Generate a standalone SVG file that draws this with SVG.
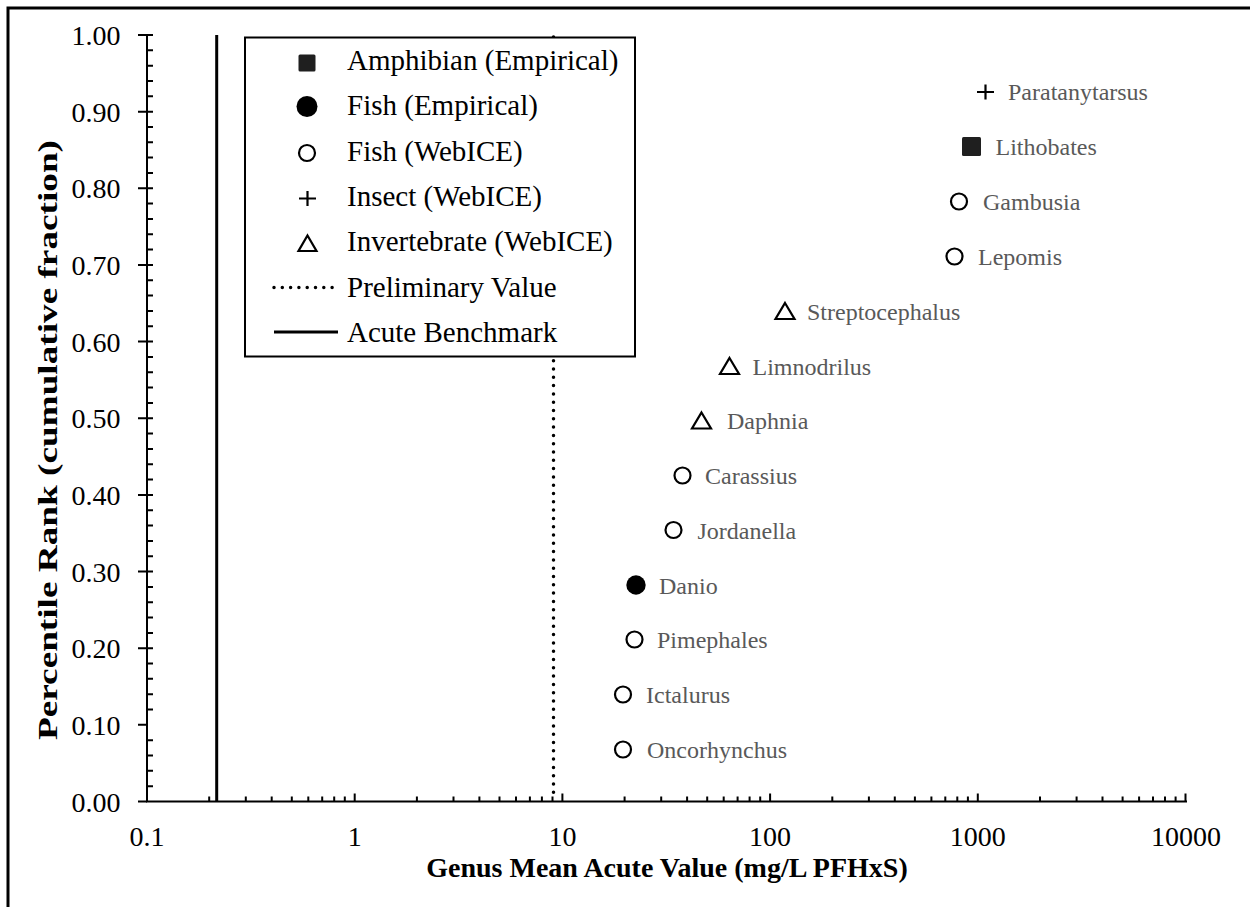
<svg xmlns="http://www.w3.org/2000/svg" width="1250" height="907" viewBox="0 0 1250 907">
<style>
  .tick{font-family:"Liberation Serif","Times New Roman",serif;font-size:28px;fill:#000}
  .title{font-family:"Liberation Serif","Times New Roman",serif;font-size:28px;font-weight:bold;fill:#000}
  .leg{font-family:"Liberation Serif","Times New Roman",serif;font-size:29px;fill:#000}
  .lab{font-family:"Liberation Serif","Times New Roman",serif;font-size:24px;fill:#595959}
  .ax{stroke:#000;stroke-width:2;fill:none}
  .oc{fill:#fff;stroke:#000;stroke-width:2.2}
  .tri{fill:#fff;stroke:#000;stroke-width:2.2;stroke-linejoin:miter}
  .plus{stroke:#000;stroke-width:2.2}
  .dot{stroke:#000;stroke-width:3.5;stroke-linecap:round;stroke-dasharray:0 8.3;fill:none}
</style>
<rect x="0" y="0" width="1250" height="907" fill="#fff"/>
<path d="M8,907 V8 H1250" fill="none" stroke="#000" stroke-width="3"/>

<g id="axes">
  <line class="ax" x1="147" y1="35" x2="147" y2="802"/>
  <line class="ax" x1="146" y1="801.5" x2="1187" y2="801.5"/>
  <path class="ax" d="M138,35H153 M138,111.65H153 M138,188.3H153 M138,264.95H153 M138,341.6H153 M138,418.25H153 M138,494.9H153 M138,571.55H153 M138,648.2H153 M138,724.85H147 M138,801.5H147"/>
  <path class="ax" d="M147,50.3H153 M147,65.7H153 M147,81H153 M147,96.3H153
  M147,127H153 M147,142.3H153 M147,157.6H153 M147,173H153
  M147,203.6H153 M147,219H153 M147,234.3H153 M147,249.6H153
  M147,280.3H153 M147,295.6H153 M147,310.9H153 M147,326.3H153
  M147,356.9H153 M147,372.2H153 M147,387.6H153 M147,402.9H153
  M147,433.6H153 M147,448.9H153 M147,464.2H153 M147,479.6H153
  M147,510.2H153 M147,525.5H153 M147,540.9H153 M147,556.2H153
  M147,586.9H153 M147,602.2H153 M147,617.5H153 M147,632.9H153
  M147,663.5H153 M147,678.8H153 M147,694.2H153 M147,709.5H153
  M147,740.2H153 M147,755.5H153 M147,770.8H153 M147,786.2H153"/>
  <path class="ax" d="M354.7,801.5V793.5 M562.4,801.5V793.5 M770.1,801.5V793.5 M977.8,801.5V793.5 M1185.5,801.5V793.5"/>
  <path id="minor" class="ax" d="M209.2,801.5v-5 M245.8,801.5v-5 M271.7,801.5v-5 M291.8,801.5v-5 M308.3,801.5v-5 M322.2,801.5v-5 M334.2,801.5v-5 M344.8,801.5v-5"/>
  <use href="#minor" x="207.7"/>
  <use href="#minor" x="415.4"/>
  <use href="#minor" x="623.1"/>
  <use href="#minor" x="830.8"/>
  <g class="tick" text-anchor="end">
    <text x="120.5" y="45">1.00</text>
    <text x="120.5" y="121.6">0.90</text>
    <text x="120.5" y="198.3">0.80</text>
    <text x="120.5" y="275">0.70</text>
    <text x="120.5" y="351.6">0.60</text>
    <text x="120.5" y="428.3">0.50</text>
    <text x="120.5" y="504.9">0.40</text>
    <text x="120.5" y="581.6">0.30</text>
    <text x="120.5" y="658.2">0.20</text>
    <text x="120.5" y="734.9">0.10</text>
    <text x="120.5" y="811.5">0.00</text>
  </g>
  <g class="tick" text-anchor="middle">
    <text x="147" y="846">0.1</text>
    <text x="354.7" y="846">1</text>
    <text x="562.4" y="846">10</text>
    <text x="770.1" y="846">100</text>
    <text x="977.8" y="846">1000</text>
    <text x="1186" y="846">10000</text>
  </g>
  <text class="title" x="667" y="877" text-anchor="middle">Genus Mean Acute Value (mg/L PFHxS)</text>
  <text class="title" transform="translate(57,440) rotate(-90)" text-anchor="middle" textLength="600" lengthAdjust="spacingAndGlyphs">Percentile Rank (cumulative fraction)</text>
</g>

<g id="connectors">
  <line id="benchmark" x1="216.7" y1="35" x2="216.7" y2="801.5" stroke="#000" stroke-width="3"/>
  <line id="preliminary" class="dot" x1="553.5" y1="37" x2="553.5" y2="800"/>
</g>

<g id="legend">
  <rect x="245" y="37.5" width="390" height="319" fill="#fff" stroke="#000" stroke-width="2"/>
  <rect x="298.5" y="54.5" width="17" height="17" rx="1.5" fill="#1f1f1f"/>
  <circle cx="307" cy="106.5" r="10.5" fill="#000"/>
  <circle class="oc" cx="307" cy="153" r="8"/>
  <path class="plus" d="M299,198.5H316 M307.5,191V206"/>
  <path class="tri" d="M307.5,235.5 L316.5,251 L298.5,251 Z"/>
  <line class="dot" x1="274" y1="287.5" x2="338" y2="287.5" stroke-width="3.3" stroke-dasharray="0 9.1"/>
  <line x1="274" y1="332" x2="338" y2="332" stroke="#000" stroke-width="3"/>
  <text class="leg" x="347" y="70">Amphibian (Empirical)</text>
  <text class="leg" x="347" y="115.3">Fish (Empirical)</text>
  <text class="leg" x="347" y="160.6">Fish (WebICE)</text>
  <text class="leg" x="347" y="205.9">Insect (WebICE)</text>
  <text class="leg" x="347" y="251.2">Invertebrate (WebICE)</text>
  <text class="leg" x="347" y="296.5">Preliminary Value</text>
  <text class="leg" x="347" y="341.8">Acute Benchmark</text>
</g>

<g id="paratanytarsus">
  <path class="plus" d="M977,92H994 M985.5,84.5V99.5"/>
  <text class="lab" x="1008" y="100">Paratanytarsus</text>
</g>
<g id="lithobates">
  <rect x="962" y="137" width="19" height="19" rx="1.5" fill="#1f1f1f"/>
  <text class="lab" x="995.5" y="155">Lithobates</text>
</g>
<g id="gambusia">
  <circle class="oc" cx="959" cy="201.5" r="8"/>
  <text class="lab" x="983" y="210">Gambusia</text>
</g>
<g id="lepomis">
  <circle class="oc" cx="954.5" cy="256.5" r="8"/>
  <text class="lab" x="978" y="265">Lepomis</text>
</g>
<g id="streptocephalus">
  <path class="tri" d="M785,303 L794.5,319 L775.5,319 Z"/>
  <text class="lab" x="807" y="319.5">Streptocephalus</text>
</g>
<g id="limnodrilus">
  <path class="tri" d="M729.5,358 L739,374 L720,374 Z"/>
  <text class="lab" x="752.5" y="374.5">Limnodrilus</text>
</g>
<g id="daphnia">
  <path class="tri" d="M701.5,412.5 L711,428.5 L692,428.5 Z"/>
  <text class="lab" x="727" y="429">Daphnia</text>
</g>
<g id="carassius">
  <circle class="oc" cx="682.5" cy="475.5" r="8"/>
  <text class="lab" x="705" y="484">Carassius</text>
</g>
<g id="jordanella">
  <circle class="oc" cx="673.5" cy="530" r="8"/>
  <text class="lab" x="697.5" y="538.5">Jordanella</text>
</g>
<g id="danio">
  <circle cx="636" cy="585" r="9.7" fill="#000"/>
  <text class="lab" x="659" y="593.5">Danio</text>
</g>
<g id="pimephales">
  <circle class="oc" cx="634.5" cy="639.5" r="8"/>
  <text class="lab" x="657" y="648">Pimephales</text>
</g>
<g id="ictalurus">
  <circle class="oc" cx="623" cy="694.5" r="8"/>
  <text class="lab" x="646" y="703">Ictalurus</text>
</g>
<g id="oncorhynchus">
  <circle class="oc" cx="623" cy="749.5" r="8"/>
  <text class="lab" x="647" y="758">Oncorhynchus</text>
</g>
</svg>
